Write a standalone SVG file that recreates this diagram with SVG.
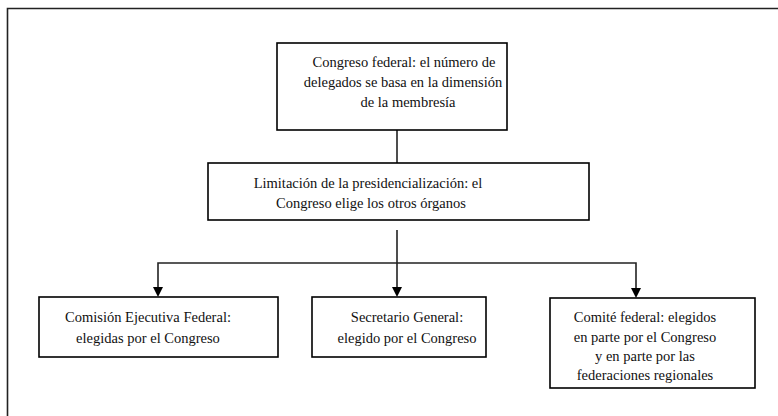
<svg xmlns="http://www.w3.org/2000/svg" width="778" height="416" viewBox="0 0 778 416">
<defs>
<style>
.box{fill:#fff;stroke:#000;stroke-width:1.6}
.ln{fill:none;stroke:#222;stroke-width:1.6}
.t text{font-family:'Liberation Serif','Times New Roman',serif;font-size:14.5px;fill:#111;text-anchor:middle}
</style>
</defs>
<rect width="778" height="416" fill="#fff"/>
<path d="M7.5,416 V8.5 H778" fill="none" stroke="#222" stroke-width="1.6"/>
<g id="connectors">
<line class="ln" x1="397" y1="130" x2="397" y2="163"/>
<line class="ln" x1="397" y1="230" x2="397" y2="288"/>
<path class="ln" d="M158,288 V263 H636 V288"/>
<path d="M153,287 L163,287 L158,297 Z" fill="#000"/>
<path d="M392,287 L402,287 L397,297 Z" fill="#000"/>
<path d="M631,288 L641,288 L636,298 Z" fill="#000"/>
</g>
<g id="n1" class="t">
<rect class="box" x="277" y="43" width="230" height="87"/>
<text x="404" y="67">Congreso federal: el número de</text>
<text x="403" y="87">delegados se basa en la dimensión</text>
<text x="408" y="107">de la membresía</text>
</g>
<g id="n2" class="t">
<rect class="box" x="208" y="163" width="381" height="57"/>
<text x="368" y="188">Limitación de la presidencialización: el</text>
<text x="371" y="208">Congreso elige los otros órganos</text>
</g>
<g id="n3" class="t">
<rect class="box" x="39" y="297" width="239" height="60"/>
<text x="148" y="322">Comisión Ejecutiva Federal:</text>
<text x="148" y="343">elegidas por el Congreso</text>
</g>
<g id="n4" class="t">
<rect class="box" x="312" y="297" width="174" height="60"/>
<text x="407" y="322">Secretario General:</text>
<text x="407" y="343">elegido por el Congreso</text>
</g>
<g id="n5" class="t">
<rect class="box" x="550" y="298" width="205" height="90"/>
<text x="645" y="322">Comité federal: elegidos</text>
<text x="645" y="342">en parte por el Congreso</text>
<text x="645" y="361">y en parte por las</text>
<text x="645" y="380">federaciones regionales</text>
</g>
</svg>
